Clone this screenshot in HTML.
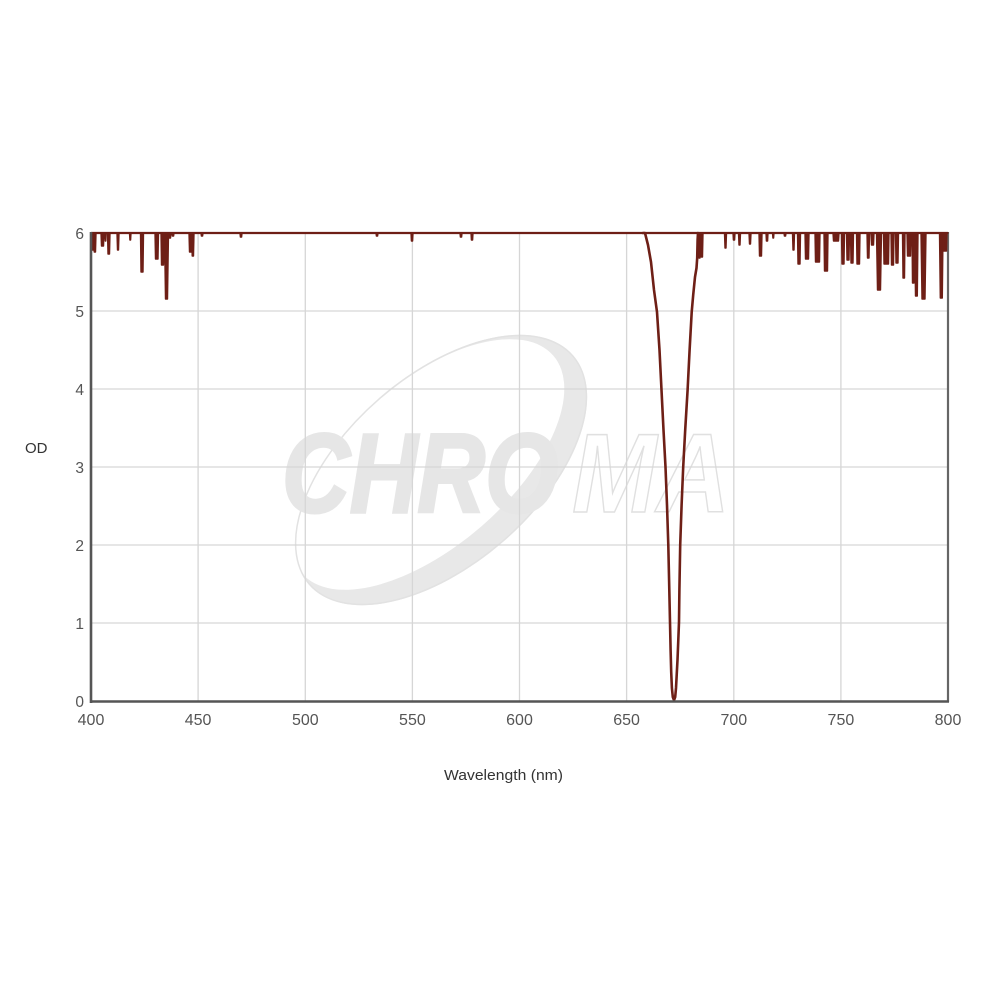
<!DOCTYPE html>
<html>
<head>
<meta charset="utf-8">
<style>
html,body{margin:0;padding:0;background:#fff;}
svg{display:block;}
</style>
</head>
<body>
<svg width="1000" height="1000" viewBox="0 0 1000 1000" xmlns="http://www.w3.org/2000/svg">
<rect x="0" y="0" width="1000" height="1000" fill="#fff"/>
<g>
<ellipse cx="441" cy="470" rx="175" ry="95" transform="rotate(-40.9 441 470)" fill="#e8e8e8"/>
<ellipse cx="427.6" cy="464.5" rx="166.3" ry="82" transform="rotate(-40.9 427.6 464.5)" fill="#fff"/>
<ellipse cx="441" cy="470" rx="174.2" ry="94.2" transform="rotate(-40.9 441 470)" fill="none" stroke="#e2e2e2" stroke-width="1.5"/>
<text x="282" y="512" font-family="Liberation Sans, sans-serif" font-weight="bold" font-style="italic" font-size="112" fill="#e6e6e6" stroke="#e6e6e6" stroke-width="3" textLength="276" lengthAdjust="spacingAndGlyphs">CHRO</text>
<text x="572" y="512" font-family="Liberation Sans, sans-serif" font-weight="bold" font-style="italic" font-size="112" fill="#fff" stroke="#e0e0e0" stroke-width="1.5" textLength="158" lengthAdjust="spacingAndGlyphs">MA</text>
</g>
<g stroke="#d6d6d6" stroke-width="1.3" fill="none">
<line x1="198.1" y1="233" x2="198.1" y2="701"/>
<line x1="305.3" y1="233" x2="305.3" y2="701"/>
<line x1="412.4" y1="233" x2="412.4" y2="701"/>
<line x1="519.5" y1="233" x2="519.5" y2="701"/>
<line x1="626.6" y1="233" x2="626.6" y2="701"/>
<line x1="733.8" y1="233" x2="733.8" y2="701"/>
<line x1="840.9" y1="233" x2="840.9" y2="701"/>
<line x1="91" y1="623" x2="948" y2="623"/>
<line x1="91" y1="545" x2="948" y2="545"/>
<line x1="91" y1="467" x2="948" y2="467"/>
<line x1="91" y1="389" x2="948" y2="389"/>
<line x1="91" y1="311" x2="948" y2="311"/>
</g>
<line x1="90" y1="233" x2="949" y2="233" stroke="#8a8a8a" stroke-width="2"/>
<line x1="948" y1="232" x2="948" y2="702" stroke="#666" stroke-width="2.2"/>
<line x1="91" y1="233" x2="948" y2="233" stroke="#6e1f16" stroke-width="2.2"/>
<path fill="#6e1f16" stroke="#6e1f16" stroke-width="1.4" stroke-linejoin="round" d="M91,233 L91.5,233 L92,250 L93,250 L93.5,233 L93.7,233 L94.2,252 L95.5,252 L96,233 L101,233 L101.5,246 L103.5,246 L104,233 L105,233 L105.3,241 L105.8,241 L106.1,233 L107.5,233 L108,254 L109.5,254 L110,233 L117,233 L117.5,250 L118.5,250 L119,233 L129.5,233 L129.9,240 L130.6,240 L131,233 L140.5,233 L141,272 L143,272 L143.5,233 L155,233 L155.5,259 L158,259 L158.5,233 L161,233 L161.5,265 L163.5,265 L164,233 L164.5,233 L165.5,299 L167.5,299 L168.5,233 L169,233 L169.5,238 L170.5,238 L171,233 L172,233 L172.4,236 L173.6,236 L174,233 L189,233 L189.5,252 L191,252 L191.5,233 L191.7,233 L192.2,256 L193.5,256 L194,233 L201,233 L201.4,236 L202.6,236 L203,233 L240,233 L240.4,237 L241.6,237 L242,233 L376,233 L376.4,236 L377.6,236 L378,233 L411,233 L411.4,241 L412.6,241 L413,233 L460,233 L460.4,237 L461.6,237 L462,233 L471,233 L471.4,240 L472.6,240 L473,233 L698.5,233 L699,258 L700,258 L700.5,233 L700.8,233 L701.3,257 L702.5,257 L703,233 L724.5,233 L725,248 L726,248 L726.5,233 L733,233 L733.4,240 L734.6,240 L735,233 L738.5,233 L739,245 L740,245 L740.5,233 L749,233 L749.5,244 L750.5,244 L751,233 L759,233 L759.5,256 L761.5,256 L762,233 L766,233 L766.4,241 L767.6,241 L768,233 L772.5,233 L772.9,238 L773.6,238 L774,233 L784,233 L784.4,236 L785.6,236 L786,233 L792.5,233 L793,250 L794,250 L794.5,233 L797.5,233 L798,264 L800,264 L800.5,233 L805,233 L805.5,259 L808.5,259 L809,233 L815,233 L815.5,262 L819.5,262 L820,233 L824,233 L824.5,271 L827.5,271 L828,233 L833,233 L833.5,241 L838.5,241 L839,233 L841.5,233 L842,264 L844,264 L844.5,233 L846.5,233 L847,260 L849,260 L849.5,233 L850.5,233 L851,263 L853,263 L853.5,233 L856.5,233 L857,264 L859.5,264 L860,233 L867,233 L867.5,258 L869,258 L869.5,233 L871,233 L871.5,245 L873.5,245 L874,233 L876.5,233 L877.5,290 L880.5,290 L881.5,233 L883.5,233 L884,264 L888.5,264 L889,233 L891,233 L891.5,265 L893.5,265 L894,233 L895.5,233 L896,263 L898,263 L898.5,233 L902.5,233 L903,278 L904.5,278 L905,233 L907,233 L907.5,256 L910.5,256 L911,233 L912,233 L912.5,283 L914,283 L914.5,233 L914.7,233 L915.5,296 L917.3,296 L918,233 L921,233 L922,299 L925,299 L926,233 L939.5,233 L940.3,298 L942.3,298 L943,233 L943.2,233 L943.6,251 L946.5,251 L947,233 L948,233 Z"/>
<path fill="none" stroke="#6e1f16" stroke-width="2.6" stroke-linejoin="round" stroke-linecap="round" d="M643,233 L645,233 L648,245 L651,262 L654,290 L657,312 L659.5,350 L661.5,390 L663.5,430 L665.5,467 L667,505 L668.3,545 L669.3,590 L670,622 L670.6,650 L671.2,672 L671.9,688 L672.8,697 L674,700.2 L675.2,697 L676,688 L676.7,675 L677.5,660 L678.3,640 L679,622 L679.4,590 L680.2,545 L681.6,505 L683.2,467 L685.2,430 L687.6,390 L689.6,350 L691.7,312 L693.2,295 L695,277 L696.5,268 L697.2,258 L697.6,240 L698,233"/>
<line x1="91" y1="232" x2="91" y2="703" stroke="#555" stroke-width="2.6"/>
<line x1="90" y1="701.5" x2="949" y2="701.5" stroke="#555" stroke-width="2.6"/>
<g font-family="Liberation Sans, Arial, sans-serif" font-size="15.5" fill="#555" text-anchor="end">
<text x="84" y="707">0</text>
<text x="84" y="629">1</text>
<text x="84" y="551">2</text>
<text x="84" y="473">3</text>
<text x="84" y="395">4</text>
<text x="84" y="317">5</text>
<text x="84" y="239">6</text>
</g>
<g font-family="Liberation Sans, Arial, sans-serif" font-size="16" fill="#555" text-anchor="middle">
<text x="91" y="725">400</text>
<text x="198.1" y="725">450</text>
<text x="305.3" y="725">500</text>
<text x="412.4" y="725">550</text>
<text x="519.5" y="725">600</text>
<text x="626.6" y="725">650</text>
<text x="733.8" y="725">700</text>
<text x="840.9" y="725">750</text>
<text x="948" y="725">800</text>
</g>
<text x="25" y="453" font-family="Liberation Sans, Arial, sans-serif" font-size="15" fill="#333">OD</text>
<text x="444" y="780" font-family="Liberation Sans, Arial, sans-serif" font-size="15" fill="#333" textLength="119" lengthAdjust="spacingAndGlyphs">Wavelength (nm)</text>
</svg>
</body>
</html>
